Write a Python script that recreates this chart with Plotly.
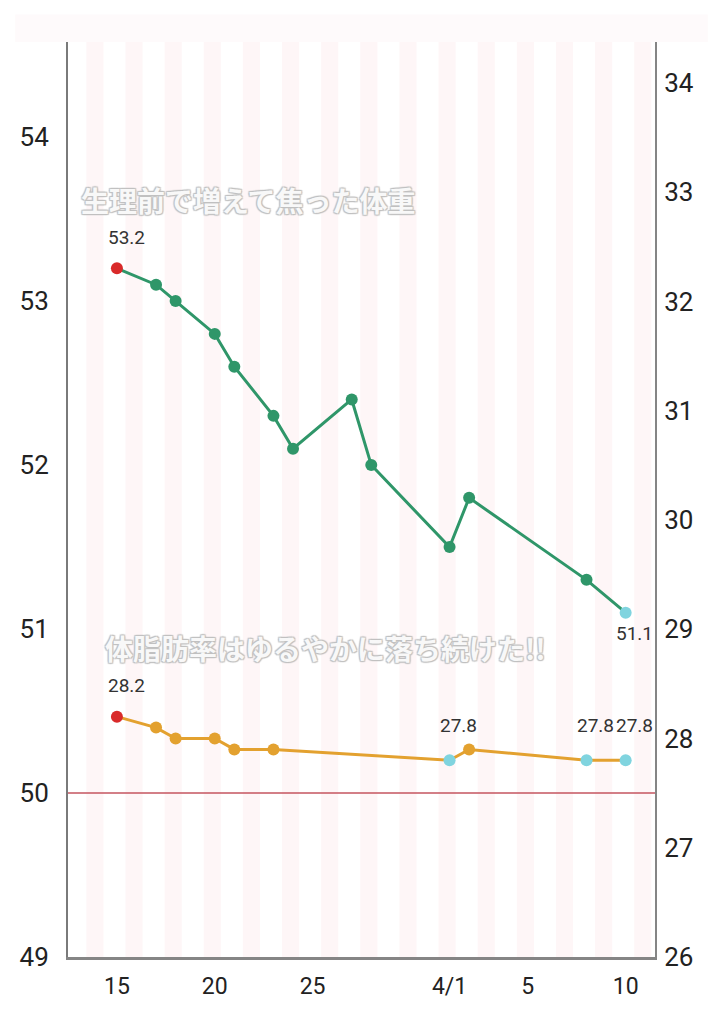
import datetime as dt
import plotly.graph_objects as go

# ---- data ----
weight_dates = ["2023-03-15", "2023-03-17", "2023-03-18", "2023-03-20", "2023-03-21",
                "2023-03-23", "2023-03-24", "2023-03-27", "2023-03-28", "2023-04-01",
                "2023-04-02", "2023-04-08", "2023-04-10"]
weight_vals = [53.2, 53.1, 53.0, 52.8, 52.6, 52.3, 52.1, 52.4, 52.0, 51.5, 51.8, 51.3, 51.1]

fat_dates = ["2023-03-15", "2023-03-17", "2023-03-18", "2023-03-20", "2023-03-21",
             "2023-03-23", "2023-04-01", "2023-04-02", "2023-04-08", "2023-04-10"]
fat_vals = [28.2, 28.1, 28.0, 28.0, 27.9, 27.9, 27.8, 27.9, 27.8, 27.8]

x_tickvals = ["2023-03-15", "2023-03-20", "2023-03-25", "2023-04-01", "2023-04-05", "2023-04-10"]
x_ticktext = ["15", "20", "25", "4/1", "5", "10"]
left_ticks = [49, 50, 51, 52, 53, 54]
right_ticks = [26, 27, 28, 29, 30, 31, 32, 33, 34]

title_weight = "生理前で増えて焦った体重"
title_fat = "体脂肪率はゆるやかに落ち続けた!!"

GREEN = "#2f9669"
ORANGE = "#e3a12f"
RED = "#d92a2a"
CYAN = "#80d4df"


def point_colors(vals, base):
    mx, mn = max(vals), min(vals)
    return [RED if v == mx else CYAN if v == mn else base for v in vals]


fig = go.Figure()

fig.add_trace(go.Scatter(
    x=weight_dates, y=weight_vals, mode="lines+markers",
    line=dict(color=GREEN, width=3),
    marker=dict(size=12, color=point_colors(weight_vals, GREEN)),
    yaxis="y", showlegend=False, hoverinfo="x+y"))

fig.add_trace(go.Scatter(
    x=fat_dates, y=fat_vals, mode="lines+markers",
    line=dict(color=ORANGE, width=3),
    marker=dict(size=12, color=point_colors(fat_vals, ORANGE)),
    yaxis="y2", showlegend=False, hoverinfo="x+y"))

label_font = dict(family="Roboto, Arial, sans-serif", size=19, color="#333333")

# labels for max / min points
wmax, wmin = max(weight_vals), min(weight_vals)
for d, v in zip(weight_dates, weight_vals):
    if v == wmax:
        fig.add_annotation(x=d, y=v, yref="y", text=f"{v:.1f}", showarrow=False,
                           yshift=31, xshift=10, font=label_font)
    elif v == wmin:
        fig.add_annotation(x=d, y=v, yref="y", text=f"{v:.1f}", showarrow=False,
                           yshift=-21, xshift=9, font=label_font)

fmax, fmin = max(fat_vals), min(fat_vals)
for d, v in zip(fat_dates, fat_vals):
    if v == fmax:
        fig.add_annotation(x=d, y=v, yref="y2", text=f"{v:.1f}", showarrow=False,
                           yshift=31, xshift=10, font=label_font)
    elif v == fmin:
        fig.add_annotation(x=d, y=v, yref="y2", text=f"{v:.1f}", showarrow=False,
                           yshift=35, xshift=9, font=label_font)

outline = ("-1px -1px 1px #c0c0c0, 1px -1px 1px #c0c0c0, -1px 1px 1px #c0c0c0, "
           "1px 1px 1px #c0c0c0, 0 0 2px #cccccc")
big_font = dict(family="Noto Sans CJK JP, sans-serif", size=28, color="#f8f8f8",
                weight="bold", shadow=outline)
fig.add_annotation(x=0.307, y=0.827, xref="paper", yref="paper", text=title_weight,
                   xanchor="center", yanchor="middle", showarrow=False, font=big_font)
fig.add_annotation(x=0.438, y=0.338, xref="paper", yref="paper", text=title_fat,
                   xanchor="center", yanchor="middle", showarrow=False, font=big_font)

# background stripes (every other day)
start = dt.datetime(2023, 3, 13, 21, 0)
for k in range(15):
    c = start + dt.timedelta(days=2 * k)
    fig.add_shape(type="rect", xref="x", yref="paper",
                  x0=c - dt.timedelta(hours=10.5), x1=c + dt.timedelta(hours=10.5),
                  y0=0, y1=1, fillcolor="#fef6f7", line=dict(width=0), layer="below")

# faint band above plot
fig.add_shape(type="rect", xref="paper", yref="paper", x0=-0.09, x1=1.09,
              y0=1.0, y1=1.03, fillcolor="#fefafb", line=dict(width=0), layer="below")

# red reference line at 50
fig.add_shape(type="line", xref="paper", yref="y", x0=0, x1=1, y0=50, y1=50,
              line=dict(color="#c4545f", width=1.5))

tick_font = dict(family="Roboto, Arial, sans-serif", size=26, color="#222222")

# page body has an 8px margin; size the figure so the plot area lands where it should
fig.update_layout(
    width=717, height=1016,
    margin=dict(l=60, r=70, t=34, b=67),
    plot_bgcolor="white", paper_bgcolor="white",
    showlegend=False,
    xaxis=dict(type="date", range=["2023-03-12 12:00", "2023-04-11 12:00"],
               tickvals=x_tickvals, ticktext=x_ticktext, showgrid=False,
               zeroline=False, showline=True, linecolor="#858585", linewidth=3,
               ticks="", tickfont=dict(family="Roboto, Arial, sans-serif", size=23,
                                       color="#222222"),
               ticklabelstandoff=6, fixedrange=True),
    yaxis=dict(range=[49, 54.58], tickvals=left_ticks, showgrid=False, zeroline=False,
               showline=True, linecolor="#7a7a7a", linewidth=2, ticks="",
               tickfont=tick_font, ticklabelstandoff=12),
    yaxis2=dict(range=[26, 34.375], tickvals=right_ticks, overlaying="y", side="right",
                showgrid=False, zeroline=False, showline=True, linecolor="#858585",
                linewidth=2, ticks="", tickfont=tick_font, ticklabelstandoff=2),
)

fig.write_html("out.html")
